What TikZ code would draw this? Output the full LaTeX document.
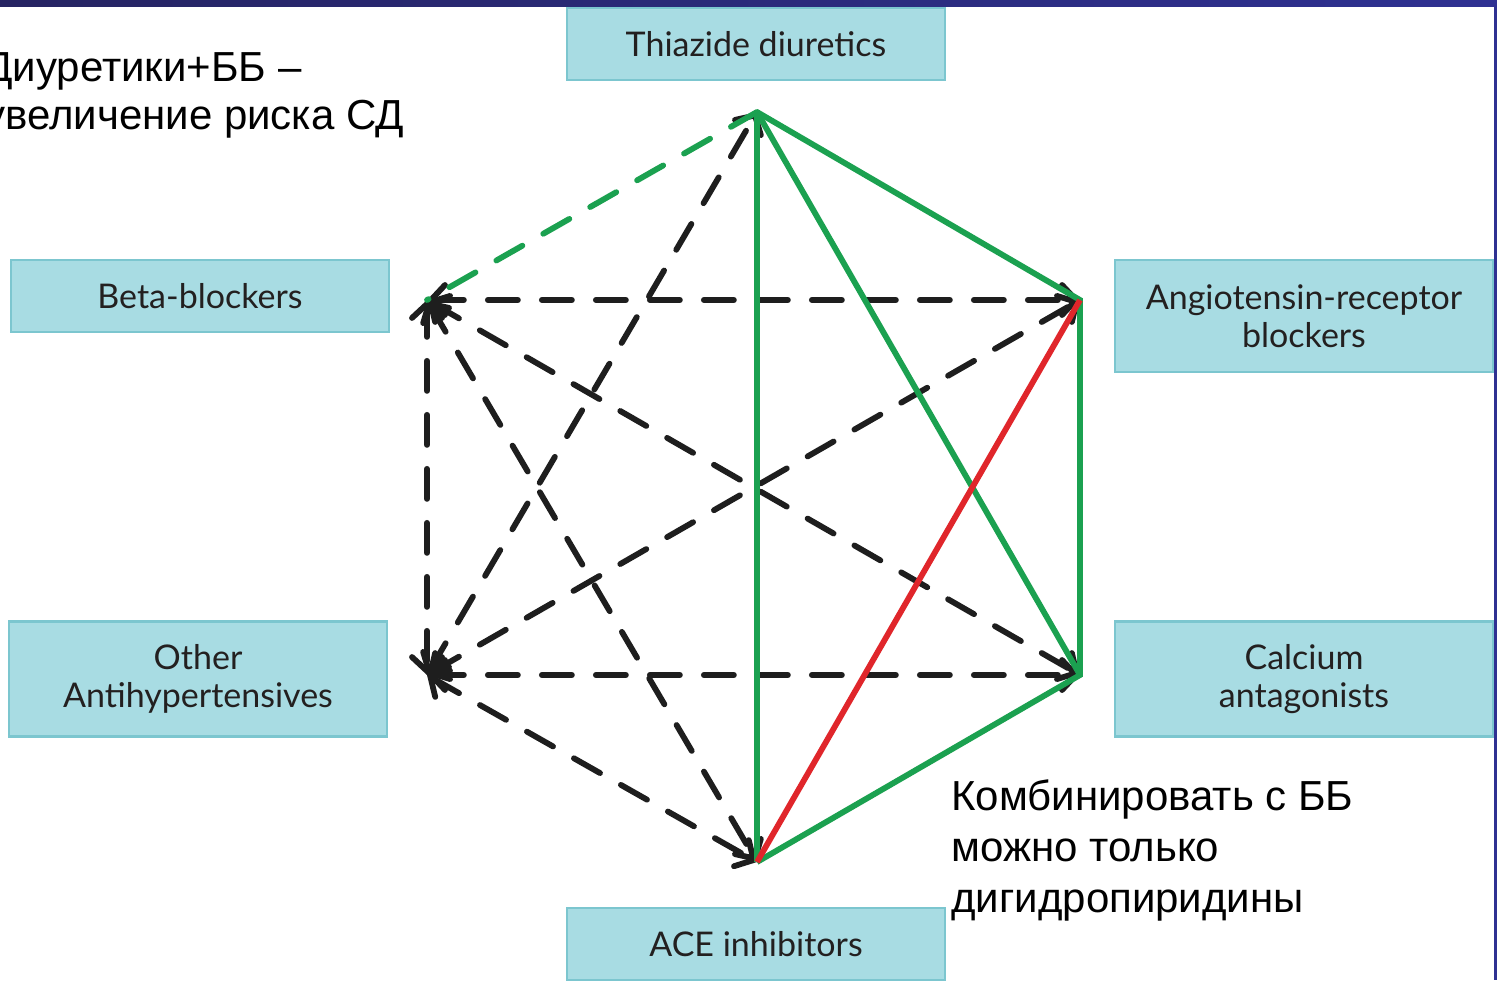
\documentclass[tikz,border=0pt]{standalone}
\usepackage{fontspec}
\setmainfont{Liberation Sans}
\newfontfamily\boxfont{Lato}
\usetikzlibrary{arrows.meta}
\definecolor{boxfill}{HTML}{A8DCE3}
\definecolor{boxline}{HTML}{7CC6CF}
\definecolor{gline}{HTML}{1BA150}
\definecolor{rline}{HTML}{E0262B}
\definecolor{bline}{HTML}{1E1E1E}
\definecolor{navyA}{HTML}{262462}
\definecolor{navyB}{HTML}{2F3192}
\definecolor{boxtext}{HTML}{232020}
\tikzset{
  drugbox/.style={draw=boxline, line width=1.2pt, fill=boxfill, minimum width=189pt, inner sep=0pt, align=center, font=\boxfont\fontsize{17}{19}\selectfont, text=boxtext},
  greenline/.style={draw=gline, line width=2.9pt},
  redline/.style={draw=rline, line width=2.9pt},
  greendash/.style={draw=gline, line width=2.9pt, line cap=round, dash pattern=on 15pt off 12pt},
  blackdash/.style={draw=bline, line width=2.9pt, line cap=round, dash pattern=on 15pt off 12pt,
     arrows={Straight Barb[length=7pt,width=15pt,line cap=round]-Straight Barb[length=7pt,width=15pt,line cap=round]}},
  notetl/.style={align=left, anchor=north west, font=\fontsize{21}{24}\selectfont, inner sep=0pt},
  notebr/.style={align=left, anchor=north west, font=\fontsize{21}{25.5}\selectfont, inner sep=0pt}
}
\begin{document}
\begin{tikzpicture}[x=0.5pt, y=-0.5pt]
\useasboundingbox (0,0) rectangle (1497,980);
\fill[white] (0,0) rectangle (1497,980);
% frame
\shade[left color=navyA, right color=navyB] (0,0) rectangle (1497,6);
\fill[navyB] (1494,0) rectangle (1497,980);
% boxes
\node[drugbox, minimum height=36pt] (thz) at (756,44) {Thiazide diuretics};
\node[drugbox, minimum height=36pt] (bb) at (200,296) {Beta-blockers};
\node[drugbox, minimum height=56pt] (arb) at (1304,316) {Angiotensin-receptor\\blockers};
\node[drugbox, minimum height=57.5pt] (oth) at (198,679) {Other\\Antihypertensives};
\node[drugbox, minimum height=57.5pt] (ca) at (1304,679) {Calcium\\antagonists};
\node[drugbox, minimum height=36pt] (ace) at (756,944) {ACE inhibitors};
% vertices
\coordinate (vT) at (757,112);
\coordinate (vARB) at (1080,300);
\coordinate (vCA) at (1080,675);
\coordinate (vACE) at (757,862);
\coordinate (vO) at (427,675);
\coordinate (vBB) at (427,300);
% black dashed
\draw[blackdash] (vBB) -- (vARB);
\draw[blackdash] (vO) -- (vCA);
\draw[blackdash] (vBB) -- (vO);
\draw[blackdash] (vBB) -- (vCA);
\draw[blackdash] (vBB) -- (vACE);
\draw[blackdash] (vO) -- (vT);
\draw[blackdash] (vO) -- (vARB);
\draw[blackdash] (vO) -- (vACE);
% green / red
\draw[greendash] (vT) -- (vBB);
\draw[greenline] (vT) -- (vACE);
\draw[greenline] (vT) -- (vCA);
\draw[greenline, line join=miter] (vT) -- (vARB) -- (vCA) -- (vACE);
\draw[redline] (vARB) -- (vACE);
% notes
\node[notetl] (n1) at (-16,52) {Диуретики+ББ –\\увеличение риска СД};
\node[notebr] (n2) at (951,779) {Комбинировать с ББ\\можно только\\дигидропиридины};
\end{tikzpicture}
\end{document}
